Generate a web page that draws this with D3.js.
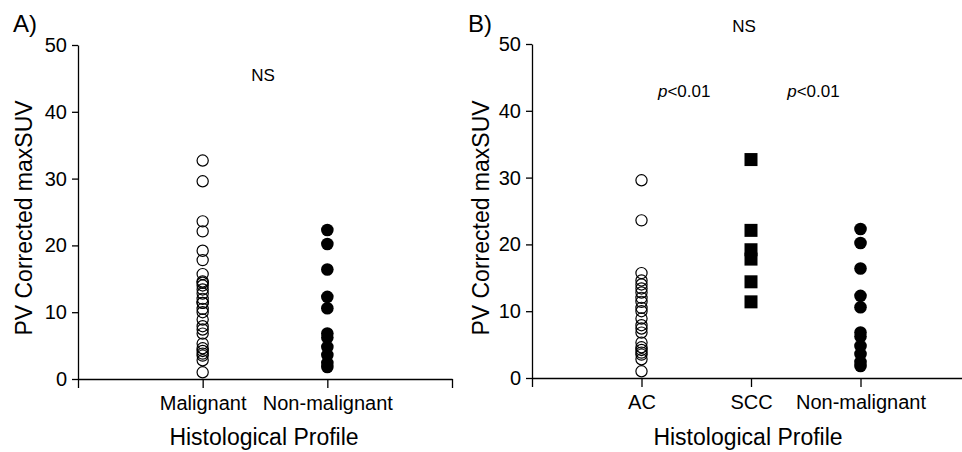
<!DOCTYPE html>
<html>
<head>
<meta charset="utf-8">
<script src="https://cdn.jsdelivr.net/npm/d3@7"></script>
<style>
  body { margin: 0; background: #fff; }
  svg text { font-family: "Liberation Sans", Arial, sans-serif; fill: #000; }
</style>
</head>
<body>
<div id="chart"></div>
<script>
// values
const AC = [29.6, 23.6, 15.7, 14.6, 14.0, 13.4, 12.8, 12.0, 11.4, 10.5, 10.0, 8.9, 7.9, 7.4, 6.8, 5.3, 4.6, 4.2, 3.8, 3.5, 2.8, 1.0];
const SCC = [32.7, 22.1, 19.2, 17.8, 14.4, 11.4];
const NON_MALIGNANT = [22.3, 20.2, 16.4, 12.3, 10.6, 6.8, 6.2, 4.8, 3.6, 2.4, 1.8];
const MALIGNANT = AC.concat(SCC);

const Y_TICKS = [0, 10, 20, 30, 40, 50];
const CATS_A = ['Malignant', 'Non-malignant'];
const CATS_B = ['AC', 'SCC', 'Non-malignant'];

const WIDTH = 962;
const HEIGHT = 452;

let svg = d3.select('#chart')
            .append('svg')
            .attr('width', WIDTH)
            .attr('height', HEIGHT);

// panel A setup
const Y_SCALE_A = d3.scaleLinear().domain([0, 50]).range([379, 45]);
const X_SCALE_A = d3.scaleLinear().domain([0, 3]).range([78, 452]);

// panel B setup
const Y_SCALE_B = d3.scaleLinear().domain([0, 50]).range([378, 44]);
const X_SCALE_B = d3.scaleLinear().domain([0, 4]).range([532, 970]);

function drawAxes(g, xScale, yScale, cats, nTicks) {
    const Y_AXIS = d3.axisLeft(yScale)
                     .tickValues(Y_TICKS)
                     .tickSize(6)
                     .tickPadding(5)
                     .tickSizeOuter(0);
    const X_AXIS = d3.axisBottom(xScale)
                     .tickValues(d3.range(nTicks))
                     .tickFormat((d) => cats[d - 1] || '')
                     .tickSize(9)
                     .tickPadding(8)
                     .tickSizeOuter(0);

    g.append('g')
     .attr('transform', 'translate(' + xScale.range()[0] + ',0)')
     .call(Y_AXIS);

    g.append('g')
     .attr('transform', 'translate(0,' + yScale(0) + ')')
     .call(X_AXIS);

    g.selectAll('.domain, .tick line')
     .attr('stroke', '#000')
     .attr('stroke-width', 1.3);
    g.selectAll('.tick text')
     .attr('font-size', 20)
     .attr('font-family', '"Liberation Sans", Arial, sans-serif')
     .attr('fill', '#000');
}

function openCircles(g, values, x, xScale, yScale) {
    g.selectAll(null)
     .data(values)
     .enter()
     .append('circle')
     .attr('cx', xScale(x))
     .attr('cy', (d) => yScale(d))
     .attr('r', 5.6)
     .attr('fill', 'none')
     .attr('stroke', '#000')
     .attr('stroke-width', 1.2);
}

function filledCircles(g, values, x, xScale, yScale) {
    g.selectAll(null)
     .data(values)
     .enter()
     .append('circle')
     .attr('cx', xScale(x))
     .attr('cy', (d) => yScale(d))
     .attr('r', 6.3)
     .attr('fill', '#000');
}

// Panel A
let gA = svg.append('g');
drawAxes(gA, X_SCALE_A, Y_SCALE_A, CATS_A, 4);
openCircles(gA, MALIGNANT, 1, X_SCALE_A, Y_SCALE_A);
filledCircles(gA, NON_MALIGNANT, 2, X_SCALE_A, Y_SCALE_A);

gA.append('text')
  .attr('x', 13)
  .attr('y', 32)
  .attr('font-size', 24)
  .text('A)');

gA.append('text')
  .attr('x', 263)
  .attr('y', 81)
  .attr('font-size', 17)
  .attr('text-anchor', 'middle')
  .text('NS');

gA.append('text')
  .attr('transform', 'translate(32,218) rotate(-90)')
  .attr('font-size', 23)
  .attr('text-anchor', 'middle')
  .text('PV Corrected maxSUV');

gA.append('text')
  .attr('x', 264)
  .attr('y', 445)
  .attr('font-size', 23)
  .attr('text-anchor', 'middle')
  .text('Histological Profile');

// Panel B
let gB = svg.append('g');
drawAxes(gB, X_SCALE_B, Y_SCALE_B, CATS_B, 5);
openCircles(gB, AC, 1, X_SCALE_B, Y_SCALE_B);

gB.selectAll(null)
  .data(SCC)
  .enter()
  .append('rect')
  .attr('x', X_SCALE_B(2) - 6.5)
  .attr('y', (d) => Y_SCALE_B(d) - 6.5)
  .attr('width', 13)
  .attr('height', 13)
  .attr('fill', '#000');

filledCircles(gB, NON_MALIGNANT, 3, X_SCALE_B, Y_SCALE_B);

gB.append('text')
  .attr('x', 468)
  .attr('y', 32)
  .attr('font-size', 24)
  .text('B)');

gB.append('text')
  .attr('x', 744)
  .attr('y', 32)
  .attr('font-size', 17)
  .attr('text-anchor', 'middle')
  .text('NS');

// p-value labels sit a little left of each gap
[1.39, 2.57].forEach(function(pos) {
    let t = gB.append('text')
              .attr('x', X_SCALE_B(pos))
              .attr('y', 97)
              .attr('font-size', 17)
              .attr('text-anchor', 'middle');
    t.append('tspan').attr('font-style', 'italic').text('p');
    t.append('tspan').text('<0.01');
});

gB.append('text')
  .attr('transform', 'translate(489,218) rotate(-90)')
  .attr('font-size', 23)
  .attr('text-anchor', 'middle')
  .text('PV Corrected maxSUV');

gB.append('text')
  .attr('x', 748)
  .attr('y', 445)
  .attr('font-size', 23)
  .attr('text-anchor', 'middle')
  .text('Histological Profile');
</script>
</body>
</html>
